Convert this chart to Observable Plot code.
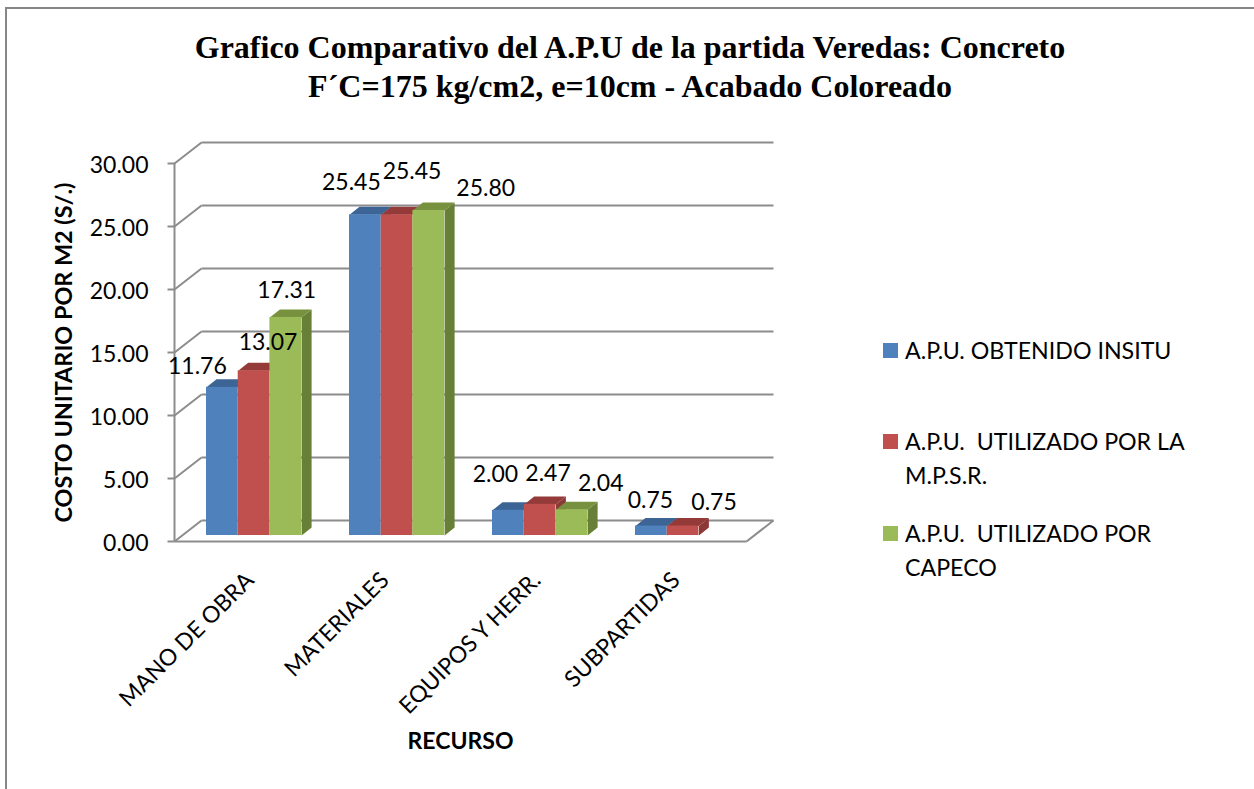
<!DOCTYPE html>
<html><head><meta charset="utf-8">
<script src="https://cdn.jsdelivr.net/npm/d3@7"></script>
<script src="https://cdn.jsdelivr.net/npm/@observablehq/plot@0.6"></script>
<style>
html,body{margin:0;padding:0;background:#fff;overflow:hidden}
#stage{position:relative;width:1254px;height:789px;overflow:hidden;background:#fff}
#frame{position:absolute;left:5px;top:7px;width:1300px;height:900px;border:2px solid #868686}
#title{position:absolute;left:5px;width:1250px;top:28px;text-align:center;font:bold 32px/39px "Liberation Serif",serif;color:#000}
#chart{position:absolute;left:0;top:0}
.lg{position:absolute;left:905px;width:320px;font:23.2px/34px Lato,sans-serif;color:#000;white-space:pre-wrap}
.sw{position:absolute;width:15px;height:15px;left:883px}
</style></head>
<body><div id="stage"><div id="frame"></div>
<div id="title">Grafico Comparativo del A.P.U de la partida Veredas: Concreto<br>F´C=175 kg/cm2, e=10cm - Acabado Coloreado</div>
<div id="chart"></div></div>
<script>
const categories = ["MANO DE OBRA","MATERIALES","EQUIPOS Y HERR.","SUBPARTIDAS"];
const seriesNames = ["A.P.U. OBTENIDO INSITU","A.P.U.  UTILIZADO POR LA\nM.P.S.R.","A.P.U.  UTILIZADO POR\nCAPECO"];
const insitu = [11.76,25.45,2.00,0.75];
const mpsr = [13.07,25.45,2.47,0.75];
const capeco = [17.31,25.80,2.04,null];
const tickValues = [0,5,10,15,20,25,30];

const values = [insitu,mpsr,capeco];
const front = ["#4F81BD","#C0504D","#9BBB59"];
const topC = ["#3C6494","#943B39","#77913F"];
const sideC = ["#385D8A","#8C3836","#677F36"];
const gray = "#8C8C8C";
// 3D projection, in data units
const wallDX = 27/143, wallDY = 21/12.6;
const barDX = 10/143, barDY = 8/12.6;
const baseY = 6/12.6, barW = 31.7/143, barStart = 32/143;
// per-label nudges, one for each series and category
const nudges = [
  [[-25,-21],[-14,-32],[-13,-36],[-1,-25]],
  [[14,-28],[15,-43],[8,-31],[31,-23]],
  [[1,-27],[57,-22],[29,-26],[0,0]]
];
const catNudges = [4,-4,5,1];

const marks = [];
// walls
const grid = tickValues.map(v=>({v}));
marks.push(Plot.link(grid,{x1:0,y1:"v",x2:wallDX,y2:d=>d.v+wallDY,stroke:gray,strokeWidth:2}));
marks.push(Plot.link(grid,{x1:wallDX,y1:d=>d.v+wallDY,x2:4+wallDX,y2:d=>d.v+wallDY,stroke:gray,strokeWidth:2}));
marks.push(Plot.link(grid,{x1:-7/143,y1:"v",x2:0,y2:"v",stroke:gray,strokeWidth:2}));
marks.push(Plot.link([{}],{x1:0,y1:0,x2:4,y2:0,stroke:gray,strokeWidth:2}));
marks.push(Plot.link([{}],{x1:4,y1:0,x2:4+wallDX,y2:wallDY,stroke:gray,strokeWidth:2}));
marks.push(Plot.ruleX([0],{y1:0,y2:30,stroke:gray,strokeWidth:2}));
marks.push(Plot.axisY({ticks:tickValues,tickFormat:d=>d.toFixed(2),tickSize:0,tickPadding:26,dy:2,fontSize:23,fill:"#000",label:null,marginLeft:174}));
// bars
categories.forEach((c,i)=>{
  values.forEach((vals,j)=>{
    const v = vals[i];
    if (v==null) return;
    const x0 = i+barStart+j*barW, x1 = x0+barW, b = baseY, t = baseY+v;
    marks.push(Plot.line([[x1,b],[x1,t],[x1+barDX,t+barDY],[x1+barDX,b+barDY]],{x:"0",y:"1",fill:sideC[j],stroke:"none"}));
    marks.push(Plot.line([[x0,t],[x1,t],[x1+barDX,t+barDY],[x0+barDX,t+barDY]],{x:"0",y:"1",fill:topC[j],stroke:"none"}));
    marks.push(Plot.rect([{}],{x1:x0,x2:x1,y1:b,y2:t,fill:front[j]}));
  });
});
// data labels
categories.forEach((c,i)=>values.forEach((vals,j)=>{
  const v = vals[i];
  if (v==null) return;
  marks.push(Plot.text([v],{x:()=>i+barStart+(j+.5)*barW,y:d=>baseY+d,text:d=>d.toFixed(2),dx:nudges[j][i][0],dy:nudges[j][i][1],fontSize:23,fill:"#000",textAnchor:"middle",lineAnchor:"middle"}));
}));
// category labels
categories.forEach((c,i)=>{
  marks.push(Plot.text([c],{x:()=>i+.5,y:0,text:d=>d,rotate:-45,textAnchor:"end",lineAnchor:"middle",dx:catNudges[i],dy:35,fontSize:23,fill:"#000"}));
});
// axis titles
marks.push(Plot.text(["COSTO UNITARIO POR M2 (S/.)"],{frameAnchor:"left",text:d=>d,rotate:-90,dx:-110,fontSize:23.4,fontWeight:"bold",fill:"#000",textAnchor:"middle",lineAnchor:"middle"}));
marks.push(Plot.text(["RECURSO"],{x:()=>2,y:0,text:d=>d,dy:200,fontSize:23,fontWeight:"bold",fill:"#000",textAnchor:"middle",lineAnchor:"middle"}));

const plot = Plot.plot({
  width:1254,height:789,
  marginLeft:174,marginRight:508,marginTop:163,marginBottom:248,
  x:{type:"linear",domain:[0,4],axis:null},
  y:{type:"linear",domain:[0,30],axis:null},
  style:{fontFamily:"Lato, sans-serif",background:"transparent",overflow:"visible"},
  marks
});
document.getElementById("chart").appendChild(plot);

// legend
const stage = document.getElementById("stage");
const legendTop = [333,424,516];
seriesNames.forEach((s,j)=>{
  const sw=document.createElement("div");sw.className="sw";sw.style.background=front[j];sw.style.top=(legendTop[j]+10)+"px";stage.appendChild(sw);
  const t=document.createElement("div");t.className="lg";t.style.top=legendTop[j]+"px";t.textContent=s;stage.appendChild(t);
});
</script></body></html>
